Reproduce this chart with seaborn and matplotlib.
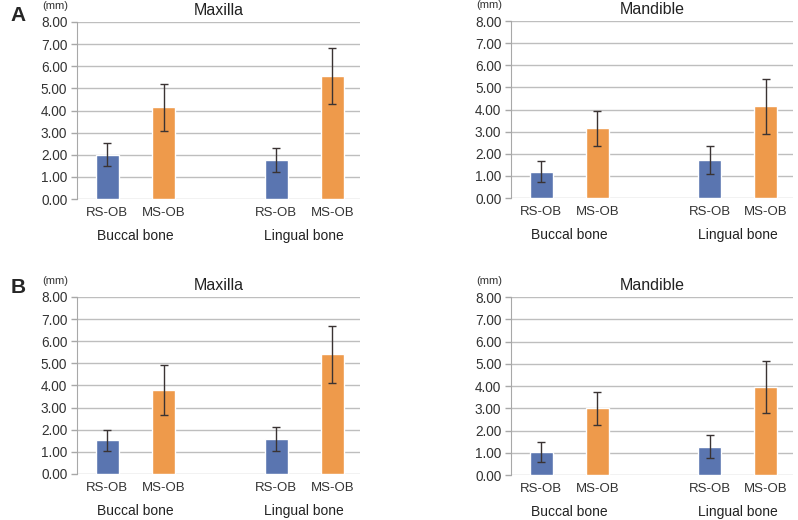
import numpy as np
import pandas as pd
import seaborn as sns
import matplotlib.pyplot as plt

# values (mean, SD) in mm
groups = ['RS-OB', 'MS-OB', 'RS-OB', 'MS-OB']
sites = ['Buccal bone', 'Lingual bone']
positions = [0, 1, 3, 4]

a_maxilla_mean = [2.00, 4.15, 1.76, 5.56]
a_maxilla_sd = [0.52, 1.06, 0.53, 1.28]
a_mandible_mean = [1.19, 3.15, 1.71, 4.14]
a_mandible_sd = [0.48, 0.79, 0.63, 1.26]
b_maxilla_mean = [1.52, 3.78, 1.58, 5.40]
b_maxilla_sd = [0.46, 1.13, 0.56, 1.29]
b_mandible_mean = [1.05, 3.00, 1.28, 3.95]
b_mandible_sd = [0.45, 0.75, 0.50, 1.16]

blue = '#5A75B0'
orange = '#EE9A4B'

sns.set_style('white')
plt.rcParams['font.family'] = ['Liberation Sans', 'DejaVu Sans']

fig = plt.figure(figsize=(7.98, 5.2), dpi=100)

panels = [
    ([0.0965, 0.6173, 0.3546, 0.3404], 'Maxilla', a_maxilla_mean, a_maxilla_sd),
    ([0.6404, 0.6192, 0.3534, 0.3404], 'Mandible', a_mandible_mean, a_mandible_sd),
    ([0.0965, 0.0885, 0.3546, 0.3404], 'Maxilla', b_maxilla_mean, b_maxilla_sd),
    ([0.6404, 0.0865, 0.3534, 0.3423], 'Mandible', b_mandible_mean, b_mandible_sd),
]

for rect, title, mean, sd in panels:
    ax = fig.add_axes(rect)
    df = pd.DataFrame({'pos': positions, 'value': mean, 'group': groups})
    sns.barplot(data=df, x='pos', y='value', hue='group', native_scale=True,
                palette={'RS-OB': blue, 'MS-OB': orange}, width=0.41,
                dodge=False, errorbar=None, legend=False, saturation=1, ax=ax)
    ax.errorbar(positions, mean, yerr=sd, fmt='none', ecolor='#3a3333',
                elinewidth=1, capsize=3, capthick=1, zorder=5)

    ax.set_ylim(0, 8)
    ax.set_xlim(-0.54, 4.49)
    ax.set_yticks(np.arange(0, 9, 1))
    ax.set_yticklabels([f'{v:.2f}' for v in np.arange(0, 9, 1)])
    ax.set_xticks(positions)
    ax.set_xticklabels(groups)
    ax.yaxis.grid(True, color='#BEBEBE', lw=1)
    ax.set_axisbelow(True)
    for s in ['top', 'right', 'bottom']:
        ax.spines[s].set_visible(False)
    ax.spines['left'].set_color('#A8A8A8')
    ax.tick_params(axis='y', length=4, width=1, color='#A8A8A8', pad=3,
                   labelsize=9.8, labelcolor='#333333', left=True)
    ax.tick_params(axis='x', length=0, pad=6, labelsize=9.5, labelcolor='#333333')
    ax.set_xlabel('')
    ax.set_ylabel('')
    ax.set_title(title, fontsize=11.5, color='#222222', pad=5)

    trans = ax.get_xaxis_transform()
    ax.text(0.5, -0.21, sites[0], transform=trans, ha='center', va='center',
            fontsize=10, color='#222222')
    ax.text(3.5, -0.21, sites[1], transform=trans, ha='center', va='center',
            fontsize=10, color='#222222')
    ax.text(-0.078, 1.09, '(mm)', transform=ax.transAxes, ha='center',
            va='center', fontsize=8, color='#333333')

fig.text(0.013, 0.971, 'A', fontsize=15, fontweight='bold', va='center')
fig.text(0.013, 0.448, 'B', fontsize=15, fontweight='bold', va='center')

fig.savefig('out.png', dpi=100)
